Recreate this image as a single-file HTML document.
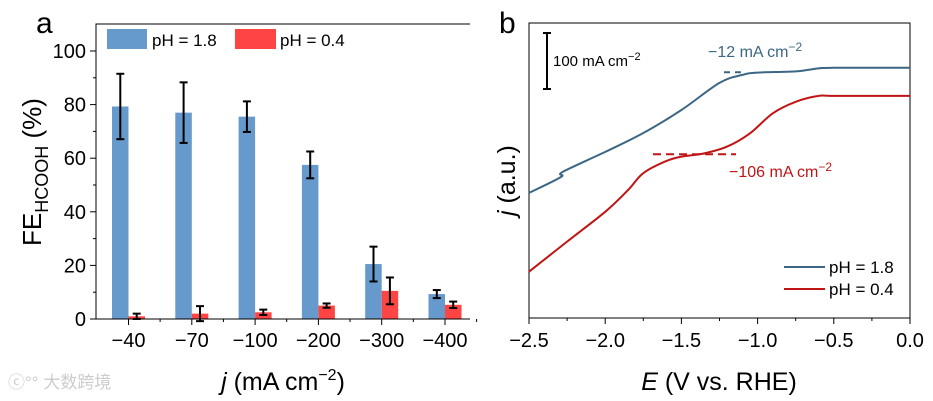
<!DOCTYPE html>
<html><head><meta charset="utf-8"><style>
body{margin:0;background:#fff}
svg{display:block;font-family:"Liberation Sans",Arial,sans-serif}
</style></head><body>
<svg id="c" width="933" height="401" viewBox="0 0 933 401">
<g id="pa"></g>
<g id="pb"></g>
<text x="8" y="388" font-size="17" fill="#ccc" font-family="Liberation Sans, Noto Sans CJK SC, sans-serif">ⓒ°° 大数跨境</text>
</svg>
<script>
// ---- Panel A data ----
const categories = ["−40","−70","−100","−200","−300","−400"];
const fe18 = [79.3, 77, 75.5, 57.5, 20.5, 9.3];
const err18 = [12.2, 11.3, 5.7, 5, 6.5, 1.5];
const fe04 = [1, 2, 2.5, 5, 10.5, 5.3];
const err04 = [1, 2.8, 1, 0.8, 5, 1.2];
const yTicksA = [0, 20, 40, 60, 80, 100];
// ---- Panel B data ----
const e18 = [-2.5,-2.29,-2.28,-2.0,-1.75,-1.5,-1.25,-1.1,-1.0,-0.75,-0.6,-0.5,0];
const j18 = [42.4,47.8,49.5,56.3,62.7,70.5,79.7,82.4,83.2,83.6,84.6,84.8,84.8];
const e04 = [-2.5,-2.25,-2.0,-1.85,-1.75,-1.6,-1.5,-1.35,-1.2,-1.05,-0.9,-0.75,-0.6,-0.5,0];
const j04 = [15.7,25.9,36.0,43.4,49.1,53.2,54.7,55.8,58.1,62.6,69.4,73.3,75.3,75.3,75.3];
const xTicksB = [-2.5,-2.0,-1.5,-1.0,-0.5,0.0];
const xTickLabelsB = ["−2.5","−2.0","−1.5","−1.0","−0.5","0.0"];

const NS="http://www.w3.org/2000/svg";
function mk(p,tag,at,txt){const e=document.createElementNS(NS,tag);for(const k in at)e.setAttribute(k,at[k]);if(txt!==undefined)e.textContent=txt;p.appendChild(e);return e;}

// Panel A
const pa=document.getElementById('pa');
const aL=96,aR=470,aT=24,aB=319;
const yA=v=>aB-v*2.68;
const xA=i=>128.5+i*63.3;
let e;
e=mk(pa,'text',{x:36,y:33,'font-size':30},'a');


categories.forEach((c,i)=>{
  const cx=xA(i);
  e=mk(pa,'rect',{x:cx-16.5,y:yA(fe18[i]),width:16.5,height:aB-yA(fe18[i]),fill:'#6699cc'});
  
  
  e=mk(pa,'rect',{x:cx,y:yA(fe04[i]),width:16.5,height:aB-yA(fe04[i]),fill:'#ff4444'});
  
  
  [[cx-8.2,fe18[i],err18[i]],[cx+8.2,fe04[i],err04[i]]].forEach(([x,v,er],k)=>{
    const g=mk(pa,'g',{stroke:'#000','stroke-width':2});
    
    
    mk(g,'line',{x1:x,x2:x,y1:yA(v+er),y2:yA(v-er)});
    mk(g,'line',{x1:x-4,x2:x+4,y1:yA(v+er),y2:yA(v+er)});
    mk(g,'line',{x1:x-4,x2:x+4,y1:yA(v-er),y2:yA(v-er)});
  });
  e=mk(pa,'line',{x1:cx,x2:cx,y1:aB,y2:aB+6,stroke:'#000','stroke-width':1});
  
  
  e=mk(pa,'line',{x1:cx+31.6,x2:cx+31.6,y1:aB,y2:aB+3,stroke:'#000','stroke-width':1});
  
  
  e=mk(pa,'text',{x:cx,y:347,'font-size':20,'text-anchor':'middle'},c);
  
  
});
yTicksA.forEach(v=>{
  e=mk(pa,'line',{x1:aL-6,x2:aL,y1:yA(v),y2:yA(v),stroke:'#000'});
  
  
  if(v<100){e=mk(pa,'line',{x1:aL-3,x2:aL,y1:yA(v+10),y2:yA(v+10),stroke:'#000'});
  
  }
  e=mk(pa,'text',{x:86,y:yA(v)+7,'font-size':20,'text-anchor':'end'},String(v));
  
  
});
e=mk(pa,'path',{d:`M${aL},${aB}V${aT}H${aR}M${aL},${aB}H${aR}`,fill:'none',stroke:'#000','stroke-width':1});


e=mk(pa,'rect',{x:107,y:29,width:40,height:20,fill:'#6699cc'});


e=mk(pa,'text',{x:152,y:46,'font-size':17},'pH = 1.8');


e=mk(pa,'rect',{x:235,y:29,width:41,height:20,fill:'#ff4444'});


e=mk(pa,'text',{x:280,y:46,'font-size':17},'pH = 0.4');


e=mk(pa,'text',{'font-size':26,transform:'translate(41,246) rotate(-90)'});
e.innerHTML='FE<tspan font-size="18" dy="7">HCOOH</tspan><tspan dy="-7"> (%)</tspan>';


e=mk(pa,'text',{x:283,y:390,'font-size':25,'text-anchor':'middle'});
e.innerHTML='<tspan font-style="italic">j</tspan> (mA cm<tspan font-size="16" dy="-10">−2</tspan><tspan dy="10">)</tspan>';



// Panel B
const pb=document.getElementById('pb');
const bL=529,bR=910,bT=23,bB=318;
const xB=v=>bL+(v+2.5)*152.4;
const yB=v=>bB-v*2.95;
e=mk(pb,'text',{x:499,y:33,'font-size':30},'b');


xTicksB.forEach((v,i)=>{
  e=mk(pb,'line',{x1:xB(v),x2:xB(v),y1:bB,y2:bB+6,stroke:'#000'});
  
  
  if(i<xTicksB.length-1){e=mk(pb,'line',{x1:xB(v+0.25),x2:xB(v+0.25),y1:bB,y2:bB+3,stroke:'#000'});
  
  }
  e=mk(pb,'text',{x:xB(v),y:347,'font-size':20,'text-anchor':'middle'},xTickLabelsB[i]);
  
  
});
e=mk(pb,'rect',{x:bL,y:bT,width:bR-bL,height:bB-bT,fill:'none',stroke:'#000'});


function pathOf(xs,ys){
  const P=xs.map((x,i)=>[xB(x),yB(ys[i])]);
  let d='M'+P[0][0].toFixed(1)+','+P[0][1].toFixed(1);
  for(let i=0;i<P.length-1;i++){
    const p0=P[Math.max(0,i-1)],p1=P[i],p2=P[i+1],p3=P[Math.min(P.length-1,i+2)];
    const c1=[p1[0]+(p2[0]-p0[0])/6,p1[1]+(p2[1]-p0[1])/6];
    const c2=[p2[0]-(p3[0]-p1[0])/6,p2[1]-(p3[1]-p1[1])/6];
    d+='C'+c1.map(v=>v.toFixed(1)).join(',')+' '+c2.map(v=>v.toFixed(1)).join(',')+' '+p2.map(v=>v.toFixed(1)).join(',');
  }
  return d;
}
e=mk(pb,'path',{d:pathOf(e18,j18),fill:'none',stroke:'#3c6784','stroke-width':2});


e=mk(pb,'path',{d:pathOf(e04,j04),fill:'none',stroke:'#c01515','stroke-width':2});


e=mk(pb,'line',{x1:653,x2:736,y1:154.3,y2:154.3,stroke:'#c01515','stroke-width':2,'stroke-dasharray':'8,5'});


e=mk(pb,'line',{x1:724,x2:744,y1:72.3,y2:72.3,stroke:'#3c6784','stroke-width':2,'stroke-dasharray':'6,5'});


e=mk(pb,'text',{x:708,y:57,'font-size':16,fill:'#3c6784'});
e.innerHTML='−12 mA cm<tspan font-size="12" dy="-6">−2</tspan>';


e=mk(pb,'text',{x:729,y:177,'font-size':16,fill:'#c01515'});
e.innerHTML='−106 mA cm<tspan font-size="12" dy="-6">−2</tspan>';


const sb=mk(pb,'g',{stroke:'#000','stroke-width':2});


mk(sb,'line',{x1:547,x2:547,y1:33,y2:89});
mk(sb,'line',{x1:543,x2:551,y1:33,y2:33});
mk(sb,'line',{x1:543,x2:551,y1:89,y2:89});
e=mk(pb,'text',{x:553,y:66,'font-size':15});
e.innerHTML='100 mA cm<tspan font-size="11" dy="-6">−2</tspan>';


e=mk(pb,'line',{x1:784,x2:825,y1:267,y2:267,stroke:'#3c6784','stroke-width':2});


e=mk(pb,'text',{x:829,y:273,'font-size':17},'pH = 1.8');


e=mk(pb,'line',{x1:784,x2:825,y1:289,y2:289,stroke:'#c01515','stroke-width':2});


e=mk(pb,'text',{x:829,y:295,'font-size':17},'pH = 0.4');


e=mk(pb,'text',{'font-size':25,transform:'translate(515,216) rotate(-90)'});
e.innerHTML='<tspan font-style="italic">j</tspan> (a.u.)';


e=mk(pb,'text',{x:719,y:390,'font-size':25,'text-anchor':'middle'});
e.innerHTML='<tspan font-style="italic">E</tspan> (V vs. RHE)';


</script>
</body></html>
